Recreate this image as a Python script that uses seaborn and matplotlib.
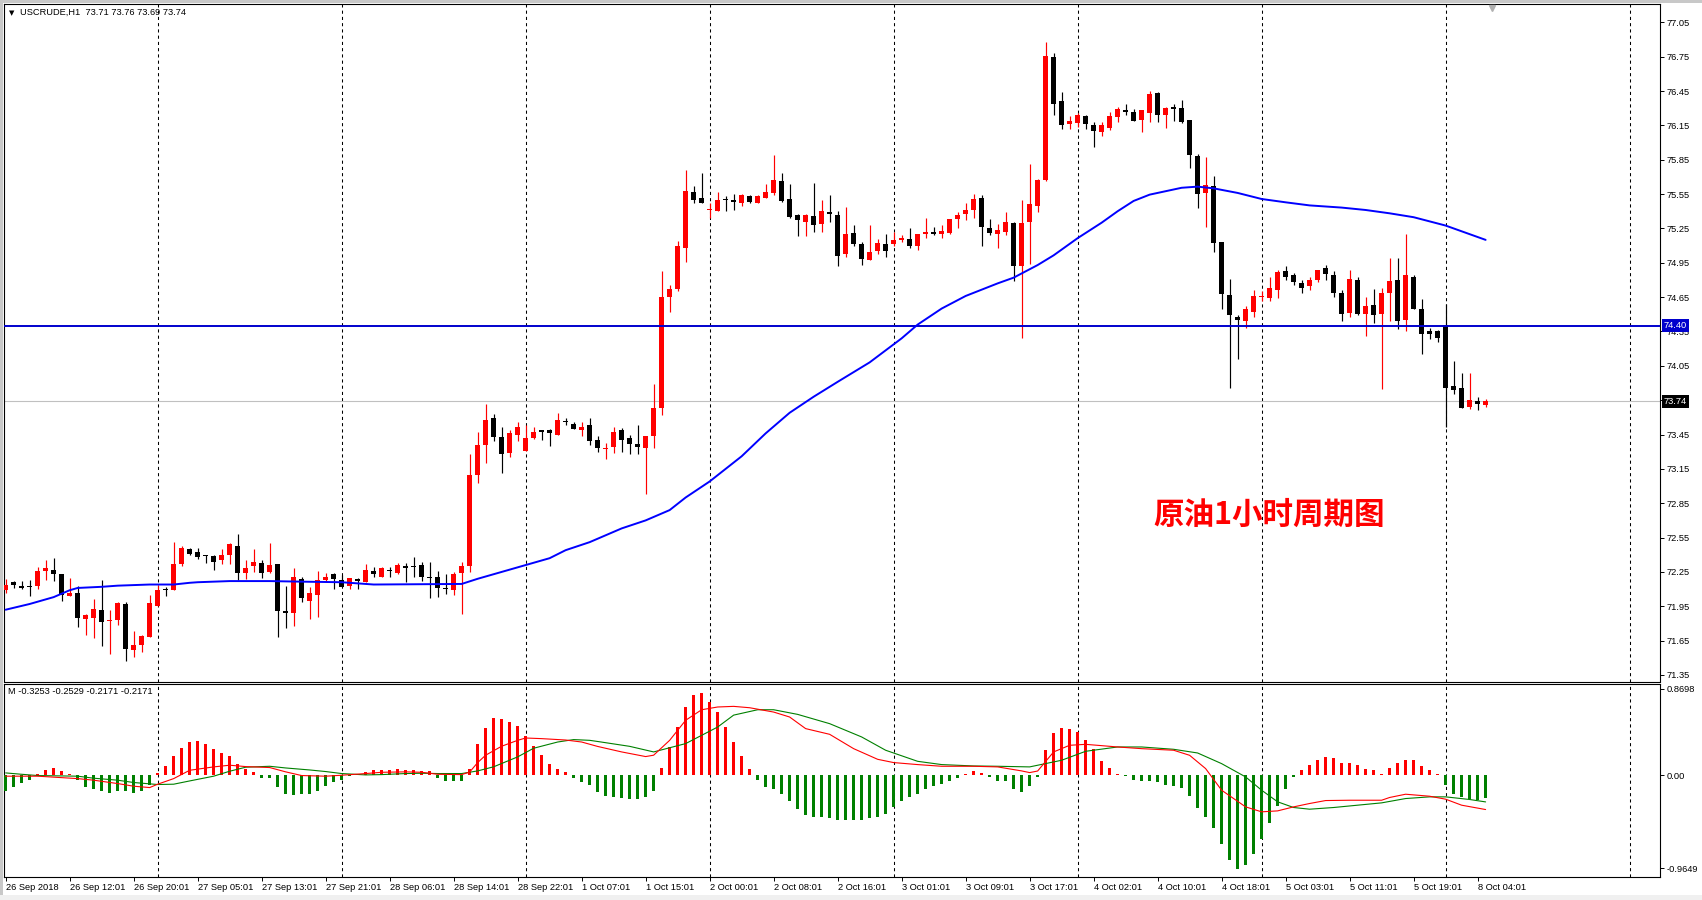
import matplotlib
matplotlib.use("Agg")
import matplotlib.pyplot as plt
import matplotlib.transforms as mtransforms
from matplotlib.patches import Rectangle
import numpy as np
import pandas as pd
import seaborn as sns

# ---------------- data ----------------
opens = [72.09, 72.16, 72.13, 72.12, 72.13, 72.26, 72.27, 72.23, 72.04, 72.07,
         71.84, 71.85, 71.92, 71.82, 71.83, 71.97, 71.57, 71.61, 71.68, 71.95,
         72.10, 72.09, 72.32, 72.45, 72.42, 72.40, 72.39, 72.35, 72.40, 72.48,
         72.24, 72.30, 72.33, 72.25, 72.32, 71.91, 71.89, 72.19, 72.00, 72.05,
         72.18, 72.23, 72.18, 72.13, 72.19, 72.16, 72.26, 72.21, 72.27, 72.24,
         72.30, 72.30, 72.31, 72.21, 72.21, 72.11, 72.09, 72.24, 72.30, 73.10,
         73.36, 73.59, 73.43, 73.29, 73.45, 73.31, 73.42, 73.49, 73.49, 73.45,
         73.57, 73.54, 73.49, 73.53, 73.40, 73.32, 73.34, 73.49, 73.42, 73.37,
         73.33, 73.44, 73.68, 74.65, 74.72, 75.08, 75.57, 75.52, 75.41, 75.40,
         75.51, 75.50, 75.47, 75.53, 75.47, 75.52, 75.56, 75.66, 75.51, 75.37,
         75.31, 75.36, 75.29, 75.39, 75.37, 75.03, 75.21, 75.11, 74.97, 75.05,
         75.11, 75.11, 75.15, 75.16, 75.10, 75.20, 75.22, 75.20, 75.21, 75.33,
         75.38, 75.41, 75.52, 75.25, 75.20, 75.22, 75.30, 74.92, 75.31, 75.45,
         75.67, 76.75, 76.36, 76.16, 76.17, 76.23, 76.15, 76.09, 76.13, 76.22,
         76.28, 76.27, 76.20, 76.26, 76.43, 76.24, 76.31, 76.30, 76.20, 75.88,
         75.56, 75.62, 75.13, 74.67, 74.48, 74.44, 74.52, 74.65, 74.64, 74.71,
         74.88, 74.84, 74.77, 74.75, 74.80, 74.90, 74.84, 74.69, 74.51, 74.80,
         74.50, 74.58, 74.50, 74.69, 74.80, 74.45, 74.83, 74.55, 74.35, 74.35,
         74.41, 73.87, 73.86, 73.69, 73.74, 73.71]
highs = [72.19, 72.17, 72.17, 72.18, 72.29, 72.35, 72.37, 72.23, 72.20, 72.13,
         71.88, 72.01, 72.18, 71.92, 71.99, 71.99, 71.73, 71.70, 72.05, 72.14,
         72.12, 72.51, 72.48, 72.46, 72.46, 72.40, 72.40, 72.45, 72.50, 72.58,
         72.35, 72.45, 72.35, 72.50, 72.32, 72.13, 72.28, 72.21, 72.12, 72.26,
         72.24, 72.24, 72.22, 72.20, 72.20, 72.32, 72.29, 72.29, 72.29, 72.33,
         72.33, 72.38, 72.34, 72.34, 72.26, 72.23, 72.25, 72.34, 73.28, 73.47,
         73.72, 73.63, 73.52, 73.49, 73.56, 73.53, 73.52, 73.49, 73.50, 73.64,
         73.59, 73.56, 73.56, 73.59, 73.44, 73.38, 73.52, 73.51, 73.45, 73.53,
         73.44, 73.89, 74.88, 74.76, 75.14, 75.76, 75.62, 75.73, 75.47, 75.57,
         75.53, 75.55, 75.55, 75.54, 75.54, 75.64, 75.89, 75.73, 75.64, 75.38,
         75.38, 75.65, 75.50, 75.54, 75.40, 75.44, 75.28, 75.13, 75.28, 75.16,
         75.20, 75.22, 75.19, 75.25, 75.20, 75.34, 75.26, 75.28, 75.33, 75.39,
         75.47, 75.55, 75.54, 75.33, 75.29, 75.39, 75.31, 75.50, 75.81, 75.68,
         76.88, 76.78, 76.44, 76.23, 76.26, 76.24, 76.18, 76.18, 76.27, 76.31,
         76.34, 76.29, 76.28, 76.45, 76.44, 76.31, 76.34, 76.37, 76.20, 75.90,
         75.87, 75.71, 75.13, 74.81, 74.49, 74.57, 74.71, 74.70, 74.83, 74.89,
         74.92, 74.86, 74.80, 74.83, 74.89, 74.93, 74.88, 74.71, 74.89, 74.83,
         74.65, 74.72, 74.73, 74.99, 74.99, 75.20, 74.84, 74.63, 74.38, 74.36,
         74.59, 74.09, 73.99, 73.99, 73.78, 73.76]
lows = [72.07, 72.11, 72.10, 72.04, 72.10, 72.18, 72.17, 72.00, 72.04, 71.77,
        71.70, 71.67, 71.60, 71.53, 71.79, 71.47, 71.51, 71.55, 71.68, 71.95,
        72.04, 72.09, 72.30, 72.40, 72.36, 72.33, 72.27, 72.32, 72.32, 72.18,
        72.19, 72.25, 72.20, 72.24, 71.68, 71.76, 71.78, 71.99, 71.84, 71.86,
        72.16, 72.10, 72.12, 72.10, 72.10, 72.16, 72.21, 72.21, 72.21, 72.23,
        72.16, 72.21, 72.17, 72.02, 72.03, 72.06, 72.05, 71.88, 72.25, 73.03,
        73.20, 73.39, 73.11, 73.25, 73.39, 73.31, 73.41, 73.40, 73.35, 73.45,
        73.53, 73.50, 73.44, 73.36, 73.30, 73.24, 73.29, 73.30, 73.28, 73.28,
        72.93, 73.33, 73.62, 74.52, 74.70, 74.96, 75.47, 75.47, 75.34, 75.40,
        75.40, 75.41, 75.45, 75.47, 75.47, 75.52, 75.54, 75.48, 75.34, 75.18,
        75.18, 75.22, 75.22, 75.31, 74.92, 75.00, 75.10, 74.93, 74.97, 75.03,
        75.00, 75.10, 75.13, 75.08, 75.06, 75.17, 75.19, 75.17, 75.20, 75.25,
        75.32, 75.34, 75.10, 75.19, 75.08, 75.19, 74.79, 74.29, 74.94, 75.39,
        75.66, 76.24, 76.12, 76.12, 76.14, 76.12, 75.96, 76.06, 76.11, 76.18,
        76.24, 76.19, 76.09, 76.18, 76.18, 76.13, 76.19, 76.17, 75.78, 75.43,
        75.26, 75.04, 74.55, 73.86, 74.11, 74.38, 74.48, 74.62, 74.62, 74.64,
        74.80, 74.76, 74.69, 74.71, 74.78, 74.80, 74.65, 74.44, 74.48, 74.49,
        74.31, 74.42, 73.85, 74.44, 74.37, 74.35, 74.55, 74.15, 74.28, 74.26,
        73.52, 73.80, 73.68, 73.67, 73.66, 73.69]
closes = [72.14, 72.14, 72.11, 72.12, 72.26, 72.28, 72.23, 72.05, 72.07, 71.85,
          71.87, 71.93, 71.81, 71.83, 71.98, 71.58, 71.61, 71.69, 71.98, 72.09,
          72.09, 72.32, 72.46, 72.41, 72.38, 72.39, 72.34, 72.40, 72.49, 72.24,
          72.28, 72.34, 72.24, 72.31, 71.91, 71.89, 72.21, 72.02, 72.07, 72.18,
          72.21, 72.19, 72.12, 72.20, 72.17, 72.27, 72.23, 72.28, 72.26, 72.31,
          72.28, 72.29, 72.21, 72.20, 72.11, 72.10, 72.23, 72.30, 73.10, 73.36,
          73.58, 73.43, 73.28, 73.46, 73.52, 73.42, 73.47, 73.47, 73.46, 73.58,
          73.56, 73.50, 73.52, 73.39, 73.33, 73.33, 73.47, 73.40, 73.37, 73.34,
          73.44, 73.68, 74.65, 74.72, 75.10, 75.58, 75.50, 75.47, 75.42, 75.50,
          75.50, 75.48, 75.54, 75.48, 75.53, 75.57, 75.67, 75.49, 75.35, 75.32,
          75.37, 75.28, 75.40, 75.38, 75.01, 75.20, 75.11, 74.98, 75.04, 75.12,
          75.05, 75.15, 75.17, 75.10, 75.20, 75.22, 75.20, 75.23, 75.33, 75.37,
          75.41, 75.51, 75.26, 75.21, 75.24, 75.31, 74.92, 75.30, 75.46, 75.67,
          76.76, 76.34, 76.15, 76.19, 76.24, 76.16, 76.10, 76.15, 76.23, 76.29,
          76.27, 76.19, 76.28, 76.42, 76.24, 76.30, 76.29, 76.18, 75.89, 75.55,
          75.63, 75.12, 74.68, 74.49, 74.45, 74.55, 74.66, 74.66, 74.73, 74.87,
          74.83, 74.78, 74.73, 74.80, 74.89, 74.85, 74.69, 74.50, 74.81, 74.50,
          74.57, 74.49, 74.69, 74.79, 74.44, 74.84, 74.55, 74.33, 74.33, 74.29,
          73.86, 73.84, 73.68, 73.75, 73.72, 73.74]

ma_bars = [0, 3, 6, 8, 9, 12, 14, 18, 21, 23, 24, 28, 33, 37, 42, 46, 57, 59, 62,
           65, 68, 70, 73, 74, 77, 80, 83, 85, 88, 92, 95, 98, 101, 104, 108, 112,
           114, 117, 120, 124, 126, 129, 131, 134, 137, 139, 141, 143, 145, 147,
           149, 151, 154, 157, 160, 163, 167, 170, 173, 176, 180, 183, 185]
ma_vals = [71.92, 71.97, 72.03, 72.09, 72.11, 72.12, 72.13, 72.14, 72.14, 72.155,
           72.16, 72.17, 72.17, 72.165, 72.16, 72.14, 72.145, 72.19, 72.25, 72.31,
           72.37, 72.44, 72.51, 72.54, 72.63, 72.70, 72.79, 72.90, 73.04, 73.26,
           73.46, 73.64, 73.78, 73.91, 74.08, 74.29, 74.41, 74.55, 74.66, 74.77,
           74.82, 74.93, 75.015, 75.165, 75.30, 75.40, 75.49, 75.545, 75.575,
           75.605, 75.615, 75.60, 75.56, 75.507, 75.478, 75.451, 75.432, 75.411,
           75.382, 75.348, 75.275, 75.20, 75.15]

level_price = 74.40
last_price = 73.74

hist_vals = [-0.148, -0.110, -0.073, -0.041, 0.009, 0.050, 0.066, 0.038, 0.013, -0.044,
             -0.110, -0.126, -0.148, -0.167, -0.148, -0.148, -0.167, -0.148, -0.095, 0.019,
             0.085, 0.180, 0.256, 0.312, 0.322, 0.293, 0.246, 0.211, 0.180, 0.110,
             0.057, 0.028, -0.022, -0.022, -0.110, -0.177, -0.186, -0.177, -0.177, -0.151,
             -0.104, -0.063, -0.041, -0.006, 0.013, 0.028, 0.047, 0.050, 0.050, 0.057,
             0.047, 0.047, 0.044, 0.038, -0.022, -0.057, -0.057, -0.057, 0.060, 0.293,
             0.451, 0.539, 0.530, 0.505, 0.464, 0.375, 0.281, 0.192, 0.104, 0.057,
             0.032, -0.022, -0.063, -0.095, -0.158, -0.199, -0.205, -0.215, -0.221, -0.221,
             -0.205, -0.151, 0.066, 0.265, 0.454, 0.644, 0.757, 0.782, 0.697, 0.596,
             0.454, 0.312, 0.180, 0.057, -0.044, -0.110, -0.132, -0.177, -0.243, -0.319,
             -0.375, -0.394, -0.394, -0.404, -0.429, -0.420, -0.426, -0.429, -0.404, -0.394,
             -0.372, -0.300, -0.249, -0.211, -0.174, -0.129, -0.104, -0.079, -0.057, -0.025,
             0.013, 0.038, 0.019, -0.016, -0.054, -0.054, -0.126, -0.161, -0.104, -0.016,
             0.240, 0.397, 0.445, 0.435, 0.413, 0.338, 0.252, 0.132, 0.066, 0.013,
             -0.009, -0.044, -0.057, -0.057, -0.063, -0.095, -0.098, -0.117, -0.199, -0.309,
             -0.397, -0.498, -0.650, -0.808, -0.886, -0.849, -0.751, -0.603, -0.451, -0.290,
             -0.129, -0.016, 0.050, 0.095, 0.145, 0.170, 0.164, 0.117, 0.117, 0.095,
             0.060, 0.047, 0.013, 0.066, 0.117, 0.142, 0.142, 0.085, 0.047, 0.009,
             -0.095, -0.174, -0.205, -0.224, -0.237, -0.2171]

macd_bars = [0, 4, 9, 11, 14, 16, 18, 19, 21, 23, 26, 28, 30, 33, 35, 37, 40, 42, 45,
             47, 50, 52, 54, 57, 58, 59, 60, 62, 64, 65, 67, 70, 72, 74, 77, 80, 81,
             83, 85, 87, 89, 91, 93, 96, 98, 100, 103, 106, 109, 111, 114, 117, 121,
             124, 127, 128, 129, 131, 133, 135, 139, 142, 146, 148, 150, 152, 155, 157,
             159, 161, 163, 165, 168, 172, 173, 175, 178, 180, 182, 185]
macd_vals = [-0.009, -0.009, -0.032, -0.047, -0.079, -0.104, -0.117, -0.085, -0.032,
             0.047, 0.079, 0.095, 0.082, 0.073, 0.032, -0.003, -0.009, 0.0, 0.016,
             0.028, 0.032, 0.028, 0.009, 0.006, 0.030, 0.120, 0.190, 0.275, 0.331,
             0.353, 0.347, 0.334, 0.315, 0.273, 0.221, 0.177, 0.190, 0.331, 0.521,
             0.621, 0.647, 0.653, 0.640, 0.599, 0.552, 0.442, 0.388, 0.252, 0.151,
             0.120, 0.101, 0.085, 0.085, 0.079, 0.041, 0.025, 0.040, 0.221, 0.284,
             0.293, 0.268, 0.252, 0.237, 0.189, 0.063, -0.142, -0.300, -0.347,
             -0.338, -0.300, -0.268, -0.240, -0.237, -0.237, -0.211, -0.180, -0.199,
             -0.227, -0.284, -0.3253]

signal_bars = [0, 2, 4, 9, 11, 14, 16, 19, 21, 23, 26, 28, 30, 33, 35, 38, 40, 42, 45,
               47, 50, 52, 54, 57, 59, 61, 64, 66, 69, 71, 73, 74, 78, 81, 85, 89, 91,
               94, 96, 99, 103, 107, 110, 114, 117, 121, 124, 128, 132, 135, 139, 142,
               146, 149, 152, 155, 157, 159, 161, 163, 166, 169, 172, 175, 178, 180,
               183, 185]
signal_vals = [0.022, 0.009, -0.003, -0.009, -0.028, -0.047, -0.069, -0.088, -0.085,
               -0.054, -0.009, 0.038, 0.076, 0.085, 0.069, 0.050, 0.035, 0.016, 0.003,
               0.006, 0.016, 0.019, 0.016, 0.016, 0.041, 0.080, 0.174, 0.256, 0.315,
               0.338, 0.331, 0.320, 0.274, 0.221, 0.300, 0.457, 0.570, 0.621, 0.621,
               0.577, 0.489, 0.363, 0.237, 0.132, 0.101, 0.088, 0.085, 0.079, 0.142,
               0.227, 0.268, 0.268, 0.246, 0.211, 0.110, -0.016, -0.142, -0.252,
               -0.306, -0.322, -0.306, -0.284, -0.262, -0.221, -0.205, -0.205, -0.230,
               -0.2529]

price_ticks = [77.05, 76.75, 76.45, 76.15, 75.85, 75.55, 75.25, 74.95, 74.65, 74.35,
               74.05, 73.75, 73.45, 73.15, 72.85, 72.55, 72.25, 71.95, 71.65, 71.35]
macd_tick_labels = ["0.8698", "0.00", "-0.9649"]
time_labels = ["26 Sep 2018", "26 Sep 12:01", "26 Sep 20:01", "27 Sep 05:01",
               "27 Sep 13:01", "27 Sep 21:01", "28 Sep 06:01", "28 Sep 14:01",
               "28 Sep 22:01", "1 Oct 07:01", "1 Oct 15:01", "2 Oct 00:01",
               "2 Oct 08:01", "2 Oct 16:01", "3 Oct 01:01", "3 Oct 09:01",
               "3 Oct 17:01", "4 Oct 02:01", "4 Oct 10:01", "4 Oct 18:01",
               "5 Oct 03:01", "5 Oct 11:01", "5 Oct 19:01", "8 Oct 04:01"]
day_bars = [19, 42, 65, 88, 111, 134, 157, 180, 203]
header_text = "USCRUDE,H1  73.71 73.76 73.69 73.74"
macd_header = "M -0.3253 -0.2529 -0.2171 -0.2171"
title_text = "原油1小时周期图"

# ---------------- style ----------------
sns.set_style("white")
plt.rcParams['font.family'] = ['Liberation Sans', 'DejaVu Sans']
FS = 6.7

W, H = 1702, 900
fig = plt.figure(figsize=(W / 100, H / 100), dpi=100)
fig.patch.set_facecolor("white")


def fy(px):
    return 1 - px / H


ax1 = fig.add_axes([4 / W, fy(681.5), (1660 - 4) / W, (681.5 - 4) / H])
ax2 = fig.add_axes([4 / W, fy(877), (1660 - 4) / W, (877 - 683.5) / H])
XL = (-0.21, 206.8)

# ---------------- price pane ----------------
df = pd.DataFrame({"o": opens, "h": highs, "l": lows, "c": closes})
df["x"] = np.arange(len(df))
up = df["c"] > df["o"]
cols = np.where(up, "#FF0000", "#000000")
ax1.vlines(df["x"], df["l"], df["h"], colors=cols, linewidth=0.85, zorder=3)
diff = (df["c"] - df["o"]).abs()
bh = np.maximum(diff, 0.009)
bottom = np.minimum(df["o"], df["c"]) - (bh - diff) / 2
ax1.bar(df["x"], bh, bottom=bottom, width=0.56, color=cols, linewidth=0, zorder=4)

for g in day_bars:
    for a in (ax1, ax2):
        a.axvline(g, color="black", lw=0.75, ls=(0, (3, 3)), zorder=1)

ax1.axhline(last_price, color="#C0C0C0", lw=0.8, zorder=2)
ax1.axhline(level_price, color="#0000CD", lw=1.4, zorder=5)
sns.lineplot(x=ma_bars, y=ma_vals, ax=ax1, color="#0000FF", linewidth=1.4,
             sort=True, legend=False, zorder=6)

ax1.set_xlim(*XL)
ax1.set_ylim(71.293, 77.210)
ax1.yaxis.tick_right()
ax1.set_yticks(price_ticks)
ax1.set_yticklabels([f"{t:.2f}" for t in price_ticks])
ax1.tick_params(axis="y", direction="out", length=3, width=0.7, pad=1.5,
                labelsize=FS, colors="black")
ax1.tick_params(axis="x", bottom=False, labelbottom=False)
ax1.set_xlabel("")
ax1.set_ylabel("")

trans1 = mtransforms.blended_transform_factory(ax1.transAxes, ax1.transData)
ax1.text(1.0024, level_price, f"{level_price:.2f}", transform=trans1, ha="left",
         va="center", fontsize=FS, color="white", zorder=10, clip_on=False,
         bbox=dict(boxstyle="square,pad=0.2", fc="#0000CD", ec="none"))
ax1.text(1.0024, last_price, f"{last_price:.2f}", transform=trans1, ha="left",
         va="center", fontsize=FS, color="white", zorder=10, clip_on=False,
         bbox=dict(boxstyle="square,pad=0.2", fc="black", ec="none"))

# chart shift marker
transs = mtransforms.blended_transform_factory(ax1.transData, ax1.transAxes)
ax1.plot([185.8], [0.994], marker="v", markersize=5, color="#B0B0B0",
         transform=transs, clip_on=False, zorder=10)

# ---------------- MACD pane ----------------
hv = np.array(hist_vals)
hcols = np.where(hv >= 0, "#FF0000", "#008000")
ax2.bar(np.arange(len(hv)), hv, width=0.4, color=hcols, linewidth=0, zorder=3)
sns.lineplot(x=signal_bars, y=signal_vals, ax=ax2, color="#008000", linewidth=0.8,
             legend=False, zorder=5)
sns.lineplot(x=macd_bars, y=macd_vals, ax=ax2, color="#FF0000", linewidth=0.8,
             legend=False, zorder=6)

ax2.set_xlim(*XL)
ax2.set_ylim(-0.9649, 0.8698)
ax2.yaxis.tick_right()
ax2.set_yticks([0.8698 - 0.052, 0.0, -0.9649 + 0.085])
ax2.set_yticklabels(macd_tick_labels)
ax2.tick_params(axis="y", direction="out", length=3, width=0.7, pad=1.5,
                labelsize=FS, colors="black")
ax2.set_xticks(list(range(0, 8 * len(time_labels), 8)))
ax2.set_xticklabels(time_labels)
for lab in ax2.get_xticklabels():
    lab.set_horizontalalignment("left")
ax2.tick_params(axis="x", direction="out", length=3, width=0.7, pad=1.0,
                labelsize=FS, colors="black", bottom=True)
ax2.set_xlabel("")
ax2.set_ylabel("")

for a in (ax1, ax2):
    for s in a.spines.values():
        s.set_color("black")
        s.set_linewidth(0.8)
        s.set_visible(True)

# ---------------- texts ----------------
fig.text(12 / W, fy(12.7), "▼", fontsize=5, family=["DejaVu Sans"],
         ha="center", va="center", color="black")
fig.text(20.5 / W, fy(12.7), header_text, fontsize=FS, ha="left", va="center",
         color="black")
fig.text(8.4 / W, fy(692), macd_header, fontsize=FS, ha="left", va="center",
         color="black")
fig.text(1269 / W, fy(514.5), title_text, fontsize=22, fontweight="bold",
         family=["Noto Sans CJK SC"], color="#FF0000", ha="center", va="center")

# window frame strips
fig.patches.append(Rectangle((0, 1 - 2.5 / H), 1, 2.5 / H, transform=fig.transFigure,
                             fc="#C8C8C8", ec="none", zorder=-1))
fig.patches.append(Rectangle((0, 0), 2.5 / W, 1, transform=fig.transFigure,
                             fc="#C8C8C8", ec="none", zorder=-1))
fig.patches.append(Rectangle((0, 0), 1, 5 / H, transform=fig.transFigure,
                             fc="#F0F0F0", ec="none", zorder=-1))

fig.savefig("out.png", dpi=100, facecolor="white")
